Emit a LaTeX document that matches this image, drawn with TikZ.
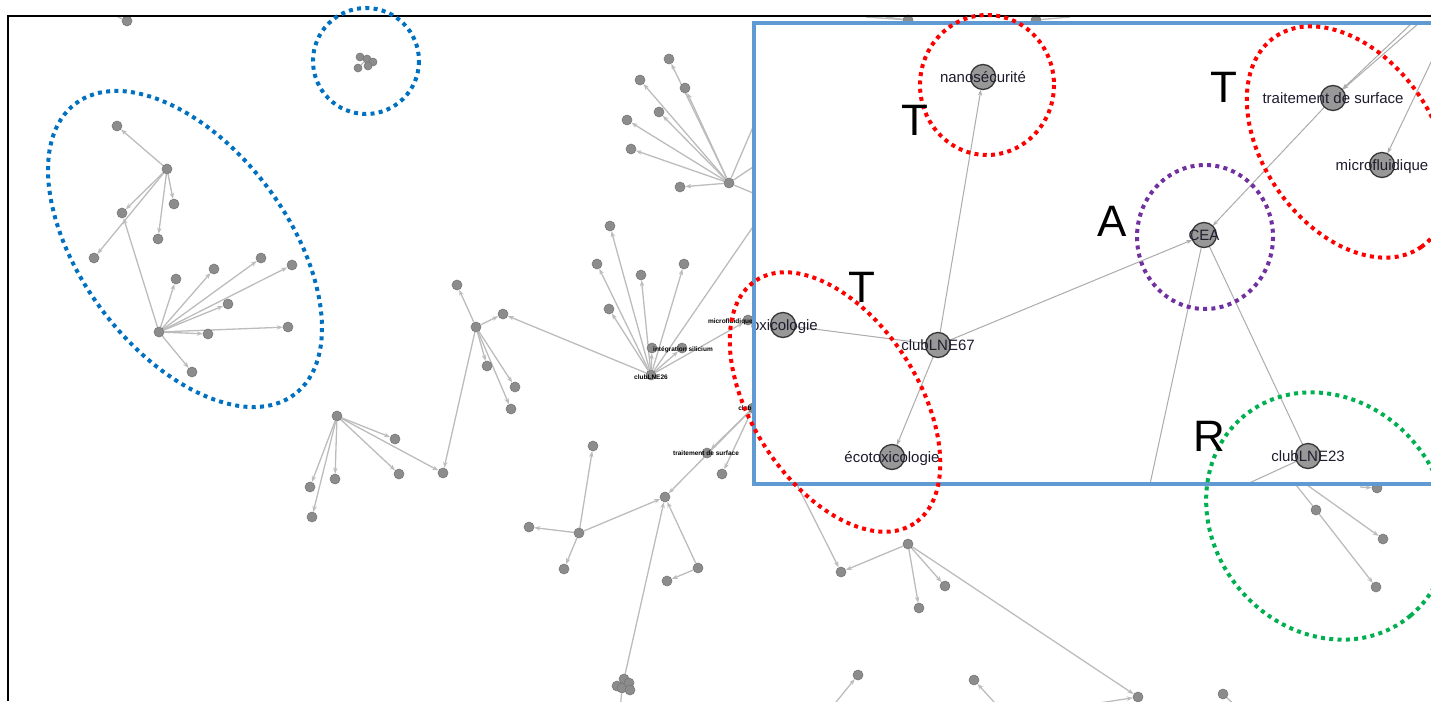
\documentclass[tikz,border=0pt]{standalone}
\usepackage{fontspec}
\setmainfont{Liberation Sans}
\usetikzlibrary{arrows.meta}
\pgfdeclarelayer{outedges}
\pgfdeclarelayer{insetfill}
\pgfdeclarelayer{inedges}
\pgfdeclarelayer{top}
\pgfsetlayers{outedges,main,insetfill,inedges,top}
\definecolor{edgegray}{RGB}{188,188,188}
\definecolor{dotgray}{RGB}{140,140,140}
\definecolor{dotedge}{RGB}{120,120,120}
\definecolor{nodegray}{RGB}{152,152,152}
\definecolor{nodeedge}{RGB}{55,55,55}
\definecolor{inedge}{RGB}{172,172,172}
\definecolor{labcol}{RGB}{30,28,45}
\definecolor{insetblue}{RGB}{95,155,210}
\definecolor{ringblue}{RGB}{0,112,192}
\definecolor{ringred}{RGB}{255,0,0}
\definecolor{ringpurple}{RGB}{112,48,160}
\definecolor{ringgreen}{RGB}{0,176,80}
\begin{document}
\begin{tikzpicture}[x=1pt,y=-1pt,
  sdot/.style={circle,fill=dotgray,draw=dotedge,line width=0.6pt,inner sep=0pt,minimum size=10pt},
  gedge/.style={draw=edgegray,line width=1.3pt,-{Stealth[length=6pt,width=4.5pt]}},
  gline/.style={draw=edgegray,line width=1.3pt},
  bnode/.style={circle,inner sep=0pt,minimum size=25pt},
  bdisk/.style={fill=nodegray,draw=nodeedge,line width=1.3pt},
  iedge/.style={draw=inedge,line width=1pt,-{Stealth[length=6pt,width=4pt]}},
  iline/.style={draw=inedge,line width=1pt},
  lbl/.style={text=labcol,font=\fontsize{15}{18}\selectfont,inner sep=0pt,anchor=base},
  tinylbl/.style={text=black,font=\fontsize{6.5}{7}\selectfont\bfseries,inner sep=0pt},
  bigl/.style={text=black,font=\fontsize{44}{50}\selectfont,inner sep=0pt},
  ringline/.style={line width=4pt,dash pattern=on 4pt off 4.3pt}
]
\useasboundingbox (0,0) rectangle (1431,701);

% ---------- outside (zoomed-out) graph: dots ----------
\node[sdot] (t1) at (127,21) {};
\coordinate (t0) at (118,17);
\node[sdot] (a1) at (167,169) {};
\node[sdot] (a2) at (117,126) {};
\node[sdot] (a3) at (174,204) {};
\node[sdot] (a4) at (122,213) {};
\node[sdot] (a5) at (158,239) {};
\node[sdot] (a6) at (94,258) {};
\node[sdot] (b1) at (159,332) {};
\node[sdot] (b2) at (176,279) {};
\node[sdot] (b3) at (214,269) {};
\node[sdot] (b4) at (261,258) {};
\node[sdot] (b5) at (292,265) {};
\node[sdot] (b6) at (228,304) {};
\node[sdot] (b7) at (208,334) {};
\node[sdot] (b8) at (288,327) {};
\node[sdot] (b9) at (192,372) {};
\node[sdot,minimum size=8pt] (c1) at (360,57) {};
\node[sdot,minimum size=8pt] (c2) at (367,59) {};
\node[sdot,minimum size=8pt] (c3) at (373,62) {};
\node[sdot,minimum size=8pt] (c4) at (368,66) {};
\node[sdot,minimum size=8pt] (c5) at (358,68) {};
\node[sdot] (h1) at (476,327) {};
\node[sdot] (m1) at (457,285) {};
\node[sdot] (m2) at (503,314) {};
\node[sdot] (m3) at (487,366) {};
\node[sdot] (m4) at (515,387) {};
\node[sdot] (m5) at (511,409) {};
\node[sdot] (m6) at (443,473) {};
\node[sdot] (h2) at (337,416) {};
\node[sdot] (n1) at (395,439) {};
\node[sdot] (n2) at (399,474) {};
\node[sdot] (n3) at (310,487) {};
\node[sdot] (n4) at (335,479) {};
\node[sdot] (n5) at (312,517) {};
\node[sdot] (h3) at (651,375) {};
\node[sdot] (p1) at (610,226) {};
\node[sdot] (p2) at (597,264) {};
\node[sdot] (p3) at (641,275) {};
\node[sdot] (p4) at (684,264) {};
\node[sdot] (p5) at (609,309) {};
\node[sdot] (p6) at (652,348) {};
\node[sdot] (p7) at (682,348) {};
\node[sdot] (p8) at (748,320) {};
\node[sdot] (h4) at (729,183) {};
\node[sdot] (r1) at (669,59) {};
\node[sdot] (r2) at (640,80) {};
\node[sdot] (r3) at (685,88) {};
\node[sdot] (r4) at (659,112) {};
\node[sdot] (r5) at (627,120) {};
\node[sdot] (r6) at (631,149) {};
\node[sdot] (r7) at (680,187) {};
\node[sdot] (h5) at (753,408) {};
\node[sdot] (s1) at (707,453) {};
\node[sdot] (s2) at (722,474) {};
\node[sdot] (s3) at (665,497) {};
\node[sdot] (u1) at (579,533) {};
\node[sdot] (u2) at (593,446) {};
\node[sdot] (u3) at (529,527) {};
\node[sdot] (u4) at (564,569) {};
\node[sdot] (w1) at (624,679) {};
\node[sdot] (w2) at (617,686) {};
\node[sdot] (w3) at (622,688) {};
\node[sdot] (w4) at (629,683) {};
\node[sdot] (w5) at (630,690) {};
\node[sdot] (v1) at (698,568) {};
\node[sdot] (v2) at (667,581) {};
\node[sdot] (x1) at (908,544) {};
\node[sdot] (x2) at (841,572) {};
\node[sdot] (x3) at (945,586) {};
\node[sdot] (x4) at (919,608) {};
\node[sdot] (x5) at (1138,697) {};
\node[sdot] (y1) at (858,675) {};
\node[sdot] (y2) at (974,680) {};
\node[sdot] (y3) at (1223,694) {};
\node[sdot] (z1) at (1316,510) {};
\node[sdot] (z2) at (1383,539) {};
\node[sdot] (z3) at (1376,587) {};
\node[sdot] (z4) at (1377,488) {};
\node[sdot] (e1) at (908,20) {};
\node[sdot] (e2) at (1036,20) {};
\coordinate (q1) at (770,202);
\coordinate (q2) at (777,71);
\coordinate (q3) at (777,151);
\coordinate (q4) at (777,203);
\coordinate (qx) at (775,441);
\coordinate (qw) at (620,712);
\coordinate (qy1) at (828,712);
\coordinate (qy2) at (1003,712);
\coordinate (qx5) at (1086,705);
\coordinate (qy3) at (1242,712);
\coordinate (z0) at (1292,480);
\coordinate (z0b) at (1300,480);
\coordinate (qz4) at (1360,487);
\coordinate (qe1) at (866,17);
\coordinate (qe1b) at (886,17);
\coordinate (qe1c) at (940,40);
\coordinate (qe2) at (1060,40);
\coordinate (qe2b) at (1092,40);
\coordinate (qe2c) at (1070,17);

% tiny labels of the zoomed-out graph
\node[tinylbl] (L26) at (651,377) {clubLNE26};
\node[tinylbl] (Lint) at (683,350) {intégration silicium};
\node[tinylbl,anchor=east] (Lmic) at (753,322) {microfluidique};
\node[tinylbl] (Lclub) at (745,408) {club};
\node[tinylbl] (Ltrs) at (706,453) {traitement de surface};

\begin{pgfonlayer}{outedges}
\draw[gline] (t0) -- (t1);
\foreach \t in {a2,a3,a4,a5,a6} \draw[gedge] (a1) -- (\t);
\foreach \t in {a4,b2,b3,b4,b5,b6,b7,b8,b9} \draw[gedge] (b1) -- (\t);
\draw[gline] (c1) -- (c3) (c5) -- (c2);
\foreach \t in {m1,m2,m3,m4,m5,m6} \draw[gedge] (h1) -- (\t);
\foreach \t in {n1,n2,m6,n3,n4,n5} \draw[gedge] (h2) -- (\t);
\foreach \t in {p1,p2,p3,p4,p5,p6,p7,p8,m2} \draw[gedge] (h3) -- (\t);
\draw[gline] (h3) -- (q1);
\foreach \t in {r1,r2,r3,r4,r5,r6,r7} \draw[gedge] (h4) -- (\t);
\draw[gline] (h4) -- (q2) (h4) -- (q3) (h4) -- (q4);
\foreach \t in {s1,s2,s3} \draw[gedge] (h5) -- (\t);
\foreach \t in {u2,u3,u4,s3} \draw[gedge] (u1) -- (\t);
\draw[gedge] (w1) -- (s3);
\draw[gline] (w3) -- (qw);
\draw[gedge] (v1) -- (s3);
\draw[gedge] (v1) -- (v2);
\draw[gedge] (qx) -- (x2);
\foreach \t in {x2,x3,x4,x5} \draw[gedge] (x1) -- (\t);
\draw[gedge] (qy1) -- (y1);
\draw[gedge] (qy2) -- (y2);
\draw[gedge] (qx5) -- (x5);
\draw[gline] (y3) -- (qy3);
\draw[gline] (z0) -- (z1);
\draw[gedge] (z1) -- (z3);
\draw[gedge] (z0b) -- (z2);
\draw[gedge] (qz4) -- (z4);
\draw[gline] (qe1) -- (e1) (qe1b) -- (e1) (e1) -- (qe1c);
\draw[gline] (e2) -- (qe2) (e2) -- (qe2b) (qe2c) -- (e2);
\end{pgfonlayer}

% frame
\draw[line width=2pt] (8,701) -- (8,16) -- (1431,16);

% blue rings of the outside graph
\draw[ringblue,ringline] (366,61) circle [radius=53];
\draw[ringblue,ringline,rotate around={-53:(185,249)}] (185,249) ellipse [x radius=182, y radius=103];

% ---------- inset (zoomed-in view) ----------
\begin{pgfonlayer}{insetfill}
\fill[white] (754,23) rectangle (1450,484);
\end{pgfonlayer}

\node[bnode] (nano) at (983,77) {};
\node[bnode] (oxi) at (783,325) {};
\node[bnode] (club67) at (938,345) {};
\node[bnode] (eco) at (892,457) {};
\node[bnode] (cea) at (1204,235) {};
\node[bnode] (trait) at (1333,98) {};
\node[bnode] (micro) at (1382,165) {};
\node[bnode] (club23) at (1308,456) {};
\coordinate (k1) at (1419,23);
\coordinate (k2) at (1412,23);
\coordinate (k3) at (1433,58);
\coordinate (k4) at (1150,484);
\coordinate (k5) at (1247,484);

\begin{pgfonlayer}{inedges}
\draw[iedge] (club67) -- (nano);
\draw[iline] (oxi) -- (club67);
\draw[iedge] (club67) -- (eco);
\draw[iedge] (club67) -- (cea);
\draw[iedge] (k1) -- (trait);
\draw[iedge] (k2) -- (trait);
\draw[iedge] (trait) -- (cea);
\draw[iedge] (k3) -- (micro);
\draw[iline] (cea) -- (k4);
\draw[iline] (cea) -- (club23);
\draw[iline] (club23) -- (k5);
\end{pgfonlayer}

\begin{pgfonlayer}{top}
\foreach \n in {nano,oxi,club67,eco,cea,trait,micro,club23}
  \filldraw[bdisk] (\n) circle [radius=12.5];
\node[lbl] (Lnano) at (983,82.5) {nanosécurité};
\node[lbl,anchor=base east] (Loxi) at (818,330.5) {oxicologie};
\node[lbl] (Lc67) at (938,350.5) {clubLNE67};
\node[lbl] (Leco) at (892,462.5) {écotoxicologie};
\node[lbl] (Lcea) at (1204,240.5) {CEA};
\node[lbl] (Ltrait) at (1333,103.5) {traitement de surface};
\node[lbl] (Lmicro) at (1382,170.5) {microfluidique};
\node[lbl] (Lc23) at (1308,461.5) {clubLNE23};
\draw[insetblue,line width=4pt] (754,23) rectangle (1450,484);
\draw[ringred,ringline] (987,85) ellipse [x radius=67, y radius=70];
\draw[ringred,ringline,rotate around={-57:(835,402)}] (835,402) ellipse [x radius=145, y radius=83];
\draw[ringred,ringline,rotate around={-55:(1348,142)}] (1348,142) ellipse [x radius=128, y radius=85];
\draw[ringpurple,ringline] (1205,237) ellipse [x radius=68, y radius=72];
\draw[ringgreen,ringline,rotate around={-50:(1327,516)}] (1327,516) ellipse [x radius=130, y radius=114];
\node[bigl] (T1) at (915,120) {T};
\node[bigl] (T2) at (862,287) {T};
\node[bigl] (A1) at (1112,221) {A};
\node[bigl] (T3) at (1224,87) {T};
\node[bigl] (R1) at (1209,436) {R};
\end{pgfonlayer}
\end{tikzpicture}
\end{document}
